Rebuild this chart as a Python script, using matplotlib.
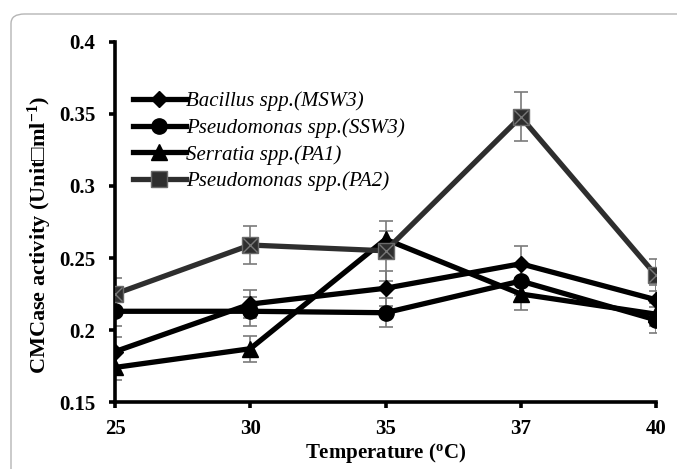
import matplotlib
matplotlib.use("Agg")
import matplotlib.pyplot as plt
from matplotlib.patches import FancyBboxPatch
import numpy as np

plt.rcParams['font.family'] = ['Liberation Serif', 'DejaVu Sans']
plt.rcParams['mathtext.fontset'] = 'custom'
plt.rcParams['mathtext.rm'] = 'Liberation Serif:bold'
plt.rcParams['mathtext.bf'] = 'Liberation Serif:bold'
plt.rcParams['mathtext.it'] = 'Liberation Serif:italic:bold'

temps = ["25", "30", "35", "37", "40"]

bacillus = [0.185, 0.218, 0.229, 0.246, 0.221]
bacillus_err = [0.010, 0.010, 0.012, 0.012, 0.010]

pseudo_ssw3 = [0.213, 0.213, 0.212, 0.234, 0.207]
pseudo_ssw3_err = [0.010, 0.010, 0.010, 0.010, 0.009]

serratia = [0.174, 0.187, 0.263, 0.225, 0.211]
serratia_err = [0.009, 0.009, 0.006, 0.011, 0.008]

pseudo_pa2 = [0.225, 0.259, 0.255, 0.348, 0.238]
pseudo_pa2_err = [0.011, 0.013, 0.021, 0.017, 0.011]

labels = ["Bacillus spp.(MSW3)", "Pseudomonas spp.(SSW3)",
          "Serratia spp.(PA1)", "Pseudomonas spp.(PA2)"]

fig = plt.figure(figsize=(6.77, 4.69), dpi=100)

# rounded frame
frame = FancyBboxPatch((11/677, -0.2), 1.2, 1 - 14/469 + 0.2,
                       boxstyle="round,pad=0,rounding_size=0.02",
                       transform=fig.transFigure, fill=False,
                       edgecolor="#b5b5b5", linewidth=1.0)
fig.patches.append(frame)

ax = fig.add_axes([115/677, 1 - 402/469, (656 - 115)/677, (402 - 42)/469])
x = np.arange(len(temps))

series = [
    (bacillus, bacillus_err, 'D', 8, 'black'),
    (pseudo_ssw3, pseudo_ssw3_err, 'o', 11, 'black'),
    (serratia, serratia_err, '^', 11, 'black'),
    (pseudo_pa2, pseudo_pa2_err, 's', 12, '#2e2e2e'),
]

handles = []
for (vals, err, mk, ms, col), lab in zip(series, labels):
    ax.errorbar(x, vals, yerr=err, fmt='none', ecolor='#7a7a7a',
                elinewidth=1.2, capsize=5, capthick=1.2, zorder=2)
    mec = '#6a6a6a' if mk == 's' else col
    h, = ax.plot(x, vals, color=col, linewidth=3.8, marker=mk,
                 markersize=ms, markerfacecolor=col, markeredgecolor=mec,
                 zorder=3, label=lab)
    if mk == 's':
        ax.plot(x, vals, linestyle='none', marker='x', markersize=ms - 2,
                markeredgecolor='#777777', markeredgewidth=1.0, zorder=4)
    handles.append(h)

ax.set_xlim(0, len(temps) - 1)
ax.set_ylim(0.15, 0.4)
ax.set_xticks(x)
ax.set_xticklabels(temps)
ax.set_yticks([0.15, 0.2, 0.25, 0.3, 0.35, 0.4])
ax.set_yticklabels(["0.15", "0.2", "0.25", "0.3", "0.35", "0.4"])

for s in ['top', 'right']:
    ax.spines[s].set_visible(False)
for s in ['left', 'bottom']:
    ax.spines[s].set_linewidth(2.6)
    ax.spines[s].set_clip_on(False)
ax.tick_params(axis='both', direction='out', length=4, width=2.6,
               labelsize=15)
ax.tick_params(axis='y', pad=10)
ax.tick_params(axis='x', pad=8)
for t in ax.get_xticklabels() + ax.get_yticklabels():
    t.set_fontweight('bold')

ax.set_xlabel("Temperature ($^{\\mathbf{o}}$C)", fontsize=15,
              fontweight='bold')
ax.xaxis.set_label_coords(0.5, -0.108)
ax.set_ylabel("CMCase activity (Unit\u25a1ml$^{-1}$)", fontsize=16,
              fontweight='bold')
ax.yaxis.set_label_coords(-0.112, 0.464)

leg = ax.legend(handles=handles, labels=labels, loc='upper left',
                bbox_to_anchor=(0.017, 0.885), frameon=False,
                prop={'family': 'Liberation Serif', 'style': 'italic', 'size': 15},
                handlelength=2.55, handletextpad=0.0, labelspacing=0.33,
                borderaxespad=0)

fig.savefig("out.png", dpi=100)
